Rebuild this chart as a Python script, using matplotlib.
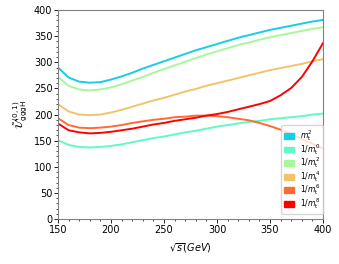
import numpy as np
import matplotlib.pyplot as plt
from matplotlib.ticker import AutoMinorLocator
from matplotlib.patches import Patch

# sqrt(s) in GeV
sqrt_s = np.arange(150, 401, 10)

# U~(0,1)_gggH for each expansion
u_mt2 = [290, 271, 263, 261, 262, 267, 273, 280, 288, 295, 302, 309, 316,
         323, 329, 335, 341, 347, 352, 357, 362, 366, 370, 374, 378, 381]
u_inv0 = [151, 142, 138, 137, 138, 140, 143, 147, 151, 155, 158, 162, 166,
          169, 173, 177, 180, 183, 186, 188, 191, 193, 195, 197, 200, 202]
u_inv2 = [272, 255, 248, 246, 248, 252, 258, 265, 272, 280, 287, 294, 301,
          308, 315, 321, 327, 333, 338, 343, 348, 352, 356, 360, 364, 367]
u_inv4 = [220, 206, 200, 199, 200, 204, 209, 215, 221, 227, 232, 238, 244,
          249, 255, 260, 265, 270, 275, 280, 285, 289, 293, 297, 302, 306]
u_inv6 = [193, 180, 175, 174, 175, 177, 180, 184, 187, 190, 192, 195, 196,
          198, 198, 197, 195, 192, 189, 184, 178, 171, 163, 153, 144, 135]
u_inv8 = [183, 170, 166, 164, 165, 167, 170, 173, 177, 181, 184, 188, 191,
          194, 198, 201, 205, 210, 215, 220, 226, 237, 251, 272, 302, 337]

labels = [r'$m_{\rm t}^2$', r'$1/m_{\rm t}^0$', r'$1/m_{\rm t}^2$',
          r'$1/m_{\rm t}^4$', r'$1/m_{\rm t}^6$', r'$1/m_{\rm t}^8$']
series = [u_mt2, u_inv0, u_inv2, u_inv4, u_inv6, u_inv8]
colors = plt.cm.rainbow(np.linspace(0.3, 1.0, 6))

fig = plt.figure(figsize=(3.39, 2.64), dpi=100)
ax = fig.add_axes([0.171, 0.170, 0.782, 0.792])

for y, c in zip(series, colors):
    ax.plot(sqrt_s, y, color=c, lw=1.4)

ax.set_xlim(150, 400)
ax.set_ylim(0, 400)
ax.set_xticks([150, 200, 250, 300, 350, 400])
ax.set_yticks(np.arange(0, 401, 50))
ax.xaxis.set_minor_locator(AutoMinorLocator(5))
ax.yaxis.set_minor_locator(AutoMinorLocator(5))
ax.tick_params(labelsize=7, length=3, width=0.6, pad=1)
ax.tick_params(which='minor', length=1.5, width=0.5)
for sp in ax.spines.values():
    sp.set_color('gray')

ax.set_xlabel(r'$\sqrt{s}(GeV)$', fontsize=7, labelpad=5)
ax.set_ylabel(r'$\tilde{\mathcal{U}}^{(0,1)}_{\rm gggH}$', fontsize=7.5, labelpad=3)

handles = [Patch(color=c, label=l) for c, l in zip(colors, labels)]
ax.legend(handles=handles, loc='lower right', bbox_to_anchor=(1.0, 0.024),
          fontsize=5.5, handlelength=1.3, handleheight=0.8, labelspacing=-0.17,
          borderpad=0.4, handletextpad=0.7, borderaxespad=0.0, framealpha=0.8)

fig.savefig('out.png', dpi=100)
